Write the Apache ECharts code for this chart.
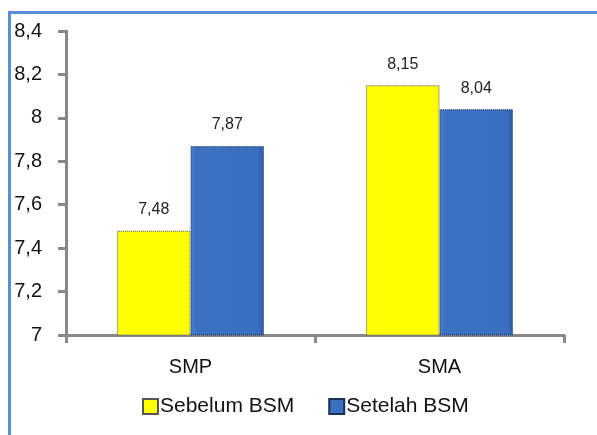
<!DOCTYPE html>
<html><head><meta charset="utf-8">
<script src="https://cdn.jsdelivr.net/npm/echarts@6/dist/echarts.min.js"></script>
<style>
html,body{margin:0;padding:0;background:#fff;overflow:hidden}
#frame{position:absolute;left:8px;top:11px;width:620px;height:460px;border:3px solid #5B8ED6;box-sizing:border-box}
#c{position:absolute;left:0;top:0;width:597px;height:435px}
</style></head>
<body>
<div id="frame"></div>
<div id="c"></div>
<script>
const categories = ['SMP', 'SMA'];
const sebelum = [7.48, 8.15];
const setelah = [7.87, 8.04];
const seriesNames = ['Sebelum BSM', 'Setelah BSM'];
const yTicks = [7, 7.2, 7.4, 7.6, 7.8, 8, 8.2, 8.4];

const fmt = v => String(Math.round(v * 100) / 100).replace('.', ',');
const chart = echarts.init(document.getElementById('c'), null, {renderer: 'canvas'});
const labelStyle = {show: true, position: 'top', distance: 13, fontFamily: 'Liberation Sans, Arial', fontSize: 16, color: '#222', formatter: p => fmt(p.value)};
chart.setOption({
  animation: false,
  backgroundColor: 'transparent',
  grid: {left: 66, right: 33, top: 31, bottom: 100},
  legend: {
    bottom: 13, left: 137, itemWidth: 15, itemHeight: 15, itemGap: 34, icon: 'rect',
    textStyle: {fontFamily: 'Liberation Sans', fontSize: 21, color: '#111', padding: [0, 0, 0, -3]},
    data: seriesNames
  },
  xAxis: {
    type: 'category', data: categories,
    axisLine: {lineStyle: {color: '#888', width: 3}},
    axisTick: {show: true, length: 8, lineStyle: {color: '#888', width: 3}, alignWithLabel: false},
    axisLabel: {fontFamily: 'Liberation Sans', fontSize: 20, color: '#111', margin: 22}
  },
  yAxis: {
    type: 'value', min: yTicks[0], max: yTicks[yTicks.length - 1], interval: 0.2,
    axisLine: {show: true, lineStyle: {color: '#888', width: 3}},
    axisTick: {show: true, length: 8, lineStyle: {color: '#888', width: 3}},
    splitLine: {show: false},
    axisLabel: {fontFamily: 'Liberation Sans', fontSize: 20, color: '#111', margin: 24, formatter: v => fmt(v)}
  },
  series: [
    {
      name: seriesNames[0], type: 'bar', data: sebelum, barGap: '0%', barCategoryGap: '41%',
      itemStyle: {color: '#FFFF00', borderColor: '#555', borderWidth: 1, borderType: 'dotted'},
      label: labelStyle
    },
    {
      name: seriesNames[1], type: 'bar', data: setelah,
      itemStyle: {
        color: new echarts.graphic.LinearGradient(0, 0, 1, 0, [
          {offset: 0, color: '#4A80CF'}, {offset: 0.08, color: '#3C71C2'}, {offset: 0.92, color: '#3A6EBE'}, {offset: 1, color: '#2D5EA8'}
        ]),
        borderColor: '#1a2f55', borderWidth: 1, borderType: 'dotted'
      },
      label: labelStyle
    }
  ]
});
</script>
</body></html>
